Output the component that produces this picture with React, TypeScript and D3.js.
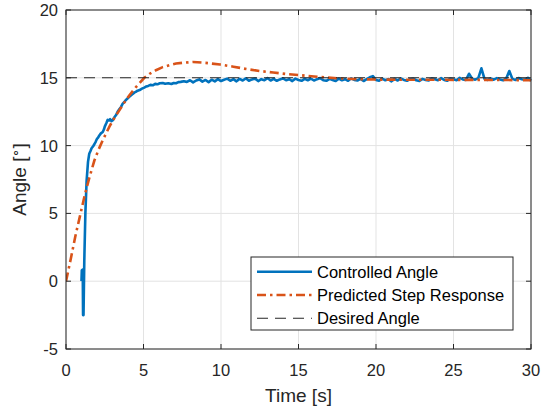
import React from "react";
import * as d3 from "d3";

const xTicks = [0, 5, 10, 15, 20, 25, 30];
const yTicks = [-5, 0, 5, 10, 15, 20];

// Controlled angle: transient (time, value)
const controlledTransient: [number, number][] = [
  [0.98, 0.0], [1.0, 0.05], [1.02, 0.8], [1.08, 0.85], [1.1, -2.5], [1.13, -2.5],
  [1.18, 1.5], [1.25, 5.0], [1.33, 7.4], [1.42, 8.8], [1.5, 9.4], [1.58, 9.6],
  [1.65, 9.8], [1.75, 9.95], [1.83, 10.1], [1.92, 10.3], [2.0, 10.5], [2.08, 10.6],
  [2.15, 10.75], [2.25, 10.9], [2.37, 11.0], [2.45, 11.2], [2.5, 11.4], [2.6, 11.65],
  [2.69, 11.9], [2.78, 11.85], [2.85, 11.95], [2.93, 11.8], [3.0, 11.85], [3.1, 12.05],
  [3.23, 12.25], [3.33, 12.5], [3.45, 12.7], [3.55, 12.85], [3.66, 13.1], [3.75, 13.2],
  [3.85, 13.35], [3.95, 13.45], [4.08, 13.6], [4.18, 13.7], [4.3, 13.8], [4.4, 13.9],
  [4.5, 13.96], [4.62, 14.05], [4.75, 14.1], [4.9, 14.2], [5.05, 14.28], [5.18, 14.36],
  [5.3, 14.4], [5.45, 14.48], [5.6, 14.45], [5.75, 14.55], [5.9, 14.52], [6.05, 14.6],
  [6.24, 14.62], [6.4, 14.56], [6.6, 14.6], [6.8, 14.54], [6.95, 14.62], [7.1, 14.6],
  [7.25, 14.68], [7.4, 14.7], [7.6, 14.75],
];

// Controlled angle: steady-state samples, every 0.2 s from 7.8 s to 30 s
const steadyStart = 7.8;
const steadyStep = 0.2;
const controlledSteady = [
  14.70, 14.82, 14.66, 14.80, 14.88, 14.72, 14.84, 14.68, 14.86, 14.74,
  14.90, 14.76, 14.86, 14.94, 14.78, 14.90, 14.74, 14.92, 14.80, 14.96,
  14.78, 14.88, 14.94, 14.76, 14.90, 14.82, 14.98, 14.80, 14.92, 14.78,
  14.88, 14.96, 14.82, 14.90, 14.76, 14.94, 14.84, 14.78, 14.92, 14.82,
  14.94, 14.80, 14.90, 14.98, 14.82, 14.78, 14.92, 14.84, 14.76, 14.94,
  14.82, 14.90, 14.78, 14.96, 14.84, 14.80, 14.92, 14.76, 14.90, 15.04,
  15.12, 14.84, 14.78, 14.94, 14.82, 14.90, 14.74, 14.92, 14.80, 14.96,
  14.84, 14.78, 14.90, 14.94, 14.82, 14.76, 14.92, 14.84, 14.80, 14.96,
  14.90, 14.82, 14.98, 14.84, 14.78, 14.94, 14.90, 14.82, 15.00, 14.88,
  14.84, 15.30, 14.94, 14.86, 14.98, 15.70, 14.92, 14.84, 14.96, 14.86,
  14.98, 14.88, 14.82, 14.94, 15.50, 14.92, 14.84, 14.98, 14.90, 14.86,
  15.00, 14.78,
];

// Predicted step response (time, value)
const predicted: [number, number][] = [
  [0, 0], [0.3, 1.6], [0.6, 3.3], [0.9, 4.8], [1.2, 6.3], [1.5, 7.6], [1.83, 8.9],
  [2.1, 9.7], [2.37, 10.4], [2.8, 11.4], [3.1, 12.0], [3.44, 12.6], [3.75, 13.15],
  [4.08, 13.7], [4.5, 14.3], [5.05, 15.0], [5.4, 15.3], [5.8, 15.56], [6.2, 15.77],
  [6.67, 15.93], [7.1, 16.05], [7.5, 16.1], [8.2, 16.17], [9.0, 16.1], [9.94, 15.98],
  [10.8, 15.82], [11.66, 15.64], [12.5, 15.5], [13.37, 15.39], [14.2, 15.28],
  [15.1, 15.19], [16.0, 15.1], [16.8, 15.02], [17.8, 14.95], [18.75, 14.9],
  [20, 14.87], [22, 14.86], [25, 14.85], [28, 14.84], [30, 14.82],
];

const desiredAngle = 15;
const legendLabels = ["Controlled Angle", "Predicted Step Response", "Desired Angle"];

const W = 542, H = 408;
const L = 66, R = 531, T = 10, B = 349;
const FONT = "'Liberation Sans', Arial, Helvetica, sans-serif";
const AX = "#262626";
const BLUE = "#0072BD";
const ORANGE = "#D95319";
const ORANGE_DASH = "9,4,2.5,4";
const BLACK_DASH = "11,7";

export default function App() {
  const x = d3.scaleLinear().domain([0, 30]).range([L, R]);
  const y = d3.scaleLinear().domain([-5, 20]).range([B, T]);
  const line = d3.line<[number, number]>().x((d) => x(d[0])).y((d) => y(d[1]));

  const controlled: [number, number][] = [
    ...controlledTransient,
    ...controlledSteady.map((v, i) => [steadyStart + steadyStep * i, v] as [number, number]),
  ];

  const legX = 251, legY = 257, legW = 262, legH = 73;
  const rows = [271.7, 295, 318.3];
  const styles = [
    { stroke: BLUE, width: 2.6, dash: undefined as string | undefined },
    { stroke: ORANGE, width: 2.6, dash: ORANGE_DASH },
    { stroke: "#262626", width: 1.1, dash: BLACK_DASH },
  ];

  return (
    <svg width={W} height={H} style={{ position: "absolute", left: 0, top: 0, background: "#fff" }}>
      <rect x={0} y={0} width={W} height={H} fill="#fff" />
      {xTicks.map((t) => (
        <line key={"gx" + t} x1={x(t)} x2={x(t)} y1={T} y2={B} stroke="#e3e3e3" strokeWidth={1} />
      ))}
      {yTicks.map((t) => (
        <line key={"gy" + t} x1={L} x2={R} y1={y(t)} y2={y(t)} stroke="#e3e3e3" strokeWidth={1} />
      ))}
      <defs>
        <clipPath id="plotclip">
          <rect x={L} y={T} width={R - L + 2} height={B - T} />
        </clipPath>
      </defs>
      <g clipPath="url(#plotclip)">
        <path d={line(controlled) || ""} fill="none" stroke={BLUE} strokeWidth={2.6} strokeLinejoin="round" />
        <path d={line(predicted) || ""} fill="none" stroke={ORANGE} strokeWidth={2.6} strokeDasharray={ORANGE_DASH} />
        <line x1={x(0)} x2={x(30)} y1={y(desiredAngle)} y2={y(desiredAngle)} stroke="#262626" strokeWidth={1.1} strokeDasharray={BLACK_DASH} />
      </g>
      <rect x={L} y={T} width={R - L} height={B - T} fill="none" stroke={AX} strokeWidth={1} />
      {xTicks.map((t) => (
        <g key={"tx" + t}>
          <line x1={x(t)} x2={x(t)} y1={B} y2={B - 5} stroke={AX} />
          <line x1={x(t)} x2={x(t)} y1={T} y2={T + 5} stroke={AX} />
          <text x={x(t)} y={376} textAnchor="middle" fontFamily={FONT} fontSize={16.5} fill={AX}>
            {t}
          </text>
        </g>
      ))}
      {yTicks.map((t) => (
        <g key={"ty" + t}>
          <line x1={L} x2={L + 5} y1={y(t)} y2={y(t)} stroke={AX} />
          <line x1={R} x2={R - 5} y1={y(t)} y2={y(t)} stroke={AX} />
          <text x={58} y={y(t) + 6} textAnchor="end" fontFamily={FONT} fontSize={16.5} fill={AX}>
            {t}
          </text>
        </g>
      ))}
      <text x={(L + R) / 2} y={402} textAnchor="middle" fontFamily={FONT} fontSize={19} fill={AX}>
        Time [s]
      </text>
      <text transform={`translate(26,${(T + B) / 2}) rotate(-90)`} textAnchor="middle" fontFamily={FONT} fontSize={19} fill={AX}>
        Angle [<tspan fontSize={13} dy={-7}>∘</tspan><tspan dy={7}>]</tspan>
      </text>
      <rect x={legX} y={legY} width={legW} height={legH} fill="#fff" stroke={AX} strokeWidth={1} />
      {legendLabels.map((lab, i) => (
        <g key={lab}>
          <line x1={257} x2={312} y1={rows[i]} y2={rows[i]} stroke={styles[i].stroke} strokeWidth={styles[i].width} strokeDasharray={styles[i].dash} />
          <text x={317} y={rows[i] + 6} fontFamily={FONT} fontSize={16.5} fill="#000">
            {lab}
          </text>
        </g>
      ))}
    </svg>
  );
}
